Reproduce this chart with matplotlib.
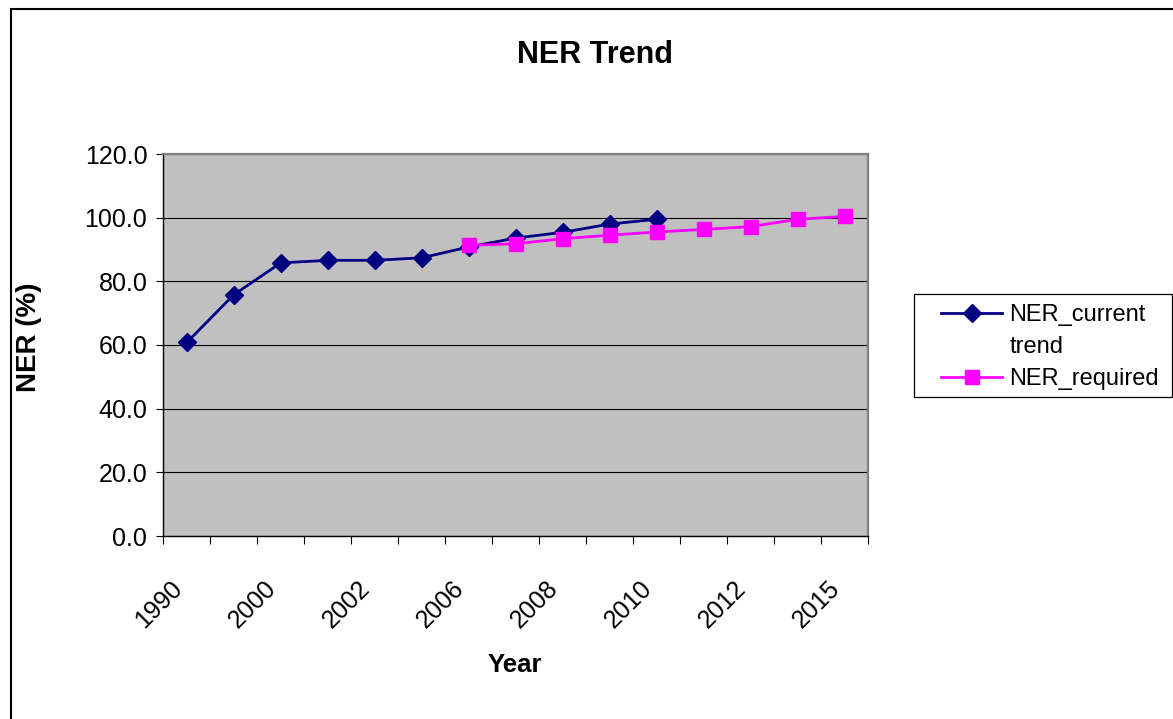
import matplotlib
matplotlib.use("Agg")
import matplotlib.pyplot as plt
from matplotlib.lines import Line2D
from matplotlib.patches import Rectangle
import numpy as np

plt.rcParams['font.family'] = ['Liberation Sans', 'DejaVu Sans']

# category axis (Excel shows every second label only)
years = ["1990", "1995", "2000", "2001", "2002", "2004", "2006", "2007",
         "2008", "2009", "2010", "2011", "2012", "2014", "2015"]

# NER values (%)
ner_current = [60.8, 75.8, 85.8, 86.6, 86.6, 87.4, 90.8, 93.6, 95.4, 98.0, 99.5]
ner_required = [91.3, 91.8, 93.4, 94.5, 95.5, 96.3, 97.2, 99.5, 100.4]
required_start = 6

x = np.arange(len(years))
x_current = x[:len(ner_current)]
x_required = x[required_start:required_start + len(ner_required)]

W, H = 1173, 719
fig = plt.figure(figsize=(W / 100, H / 100), dpi=100)
fig.patch.set_facecolor("white")

ax = fig.add_axes([163.3 / W, (H - 536) / H, 705 / W, 382 / H])
ax.set_facecolor("#C0C0C0")

ax.plot(x_current, ner_current, color="#000080", lw=2.0, marker="D",
        ms=9.5, mec="#000080", mfc="#000080", zorder=3)
ax.plot(x_required, ner_required, color="#FF00FF", lw=2.0, marker="s",
        ms=10.5, mec="#FF00FF", mfc="#FF00FF", zorder=4)

ax.set_xlim(-0.5, len(years) - 0.5)
ax.set_ylim(0, 120)

# y axis
ax.set_yticks(np.arange(0, 121, 20))
ax.set_yticklabels(["%.1f" % v for v in np.arange(0, 121, 20)])
ax.yaxis.grid(True, color="black", lw=0.8)
ax.set_axisbelow(True)
ax.tick_params(axis="y", direction="out", length=5, width=0.8,
               labelsize=18, pad=6.5)

# x axis: labels at category centres, tick marks on boundaries
ax.set_xticks(x[::2])
ax.set_xticklabels(years[::2], rotation=45, ha="right", va="top")
ax.set_xticks(np.arange(-0.5, len(years), 1.0), minor=True)
ax.tick_params(axis="x", which="major", length=0, labelsize=18, pad=29)
ax.tick_params(axis="x", which="minor", direction="out", length=6, width=0.8)

for side in ["top", "right"]:
    ax.spines[side].set_color("#808080")
    ax.spines[side].set_linewidth(1.6)
for side in ["left", "bottom"]:
    ax.spines[side].set_color("black")
    ax.spines[side].set_linewidth(1.0)

ax.set_xlabel("Year", fontsize=18.5, fontweight="bold")
ax.xaxis.set_label_coords(0.499, -0.306)
ax.set_ylabel("NER (%)", fontsize=20, fontweight="bold")
ax.yaxis.set_label_coords(-0.172, 0.521)

fig.text(595 / W, 1 - 63 / H, "NER Trend", fontsize=22, fontweight="bold",
         ha="center", va="baseline")

# legend
handles = [
    Line2D([], [], color="#000080", lw=2.0, marker="D", ms=9.5),
    Line2D([], [], color="none"),
    Line2D([], [], color="#FF00FF", lw=2.0, marker="s", ms=10.5),
]
labels = ["NER_current", "trend", "NER_required"]
fig.legend(handles, labels, loc="upper left",
           bbox_to_anchor=(941 / W, 1 - 304 / H), frameon=False,
           fontsize=17, borderpad=0, borderaxespad=0, handlelength=2.6,
           handletextpad=0.3, labelspacing=0.42)
fig.add_artist(Rectangle((914 / W, 1 - 397 / H), 258 / W, 103 / H,
                         transform=fig.transFigure, fill=False,
                         edgecolor="black", lw=0.9))

# chart area border
fig.add_artist(Rectangle((11 / W, -0.1), 1.2, 1 - 9 / H + 0.1,
                         transform=fig.transFigure, fill=False,
                         edgecolor="black", lw=1.5))

fig.savefig("out.png", dpi=100)
